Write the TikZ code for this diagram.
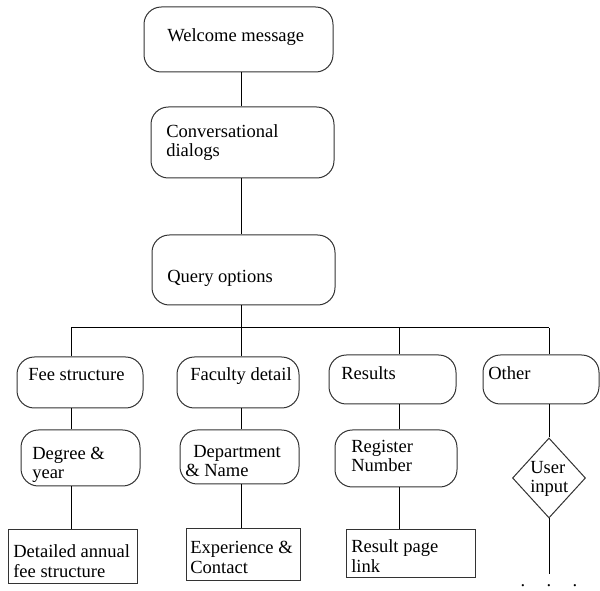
\documentclass[tikz,border=0pt]{standalone}
\usepackage{fontspec}
\setmainfont{Liberation Serif}
\usetikzlibrary{fit,shapes.geometric}

\begin{document}
\begin{tikzpicture}[x=0.75pt,y=0.75pt,yscale=-1,
  rbox/.style={draw=black!80, line width=0.75pt, rounded corners=13pt, inner sep=0pt},
  sbox/.style={draw=black!80, line width=0.75pt, inner sep=0pt},
  txt/.style={font=\fontsize{13.9}{14.8}\selectfont, align=left, inner sep=0pt, anchor=base west},
  link/.style={line width=0.75pt}]
\useasboundingbox (0,0) rectangle (600,591);

% Main column
\node[rbox, fit={(144,7) (333,72)}] (welcome) {};
\node[txt] (welcomeT) at (167,42) {Welcome message};
\node[rbox, fit={(151,107) (334,178)}] (conv) {};
\node[txt] (convT) at (166,157) {Conversational\\dialogs};
\node[rbox, fit={(152,235) (335,305)}] (query) {};
\node[txt] (queryT) at (167,283) {Query options};

% Branch points
\coordinate (c1) at (71,328);
\coordinate (c2) at (241,328);
\coordinate (c3) at (399,328);
\coordinate (c4) at (549,328);

% Options
\node[rbox, fit={(17,357) (143,408)}] (fee) {};
\node[txt] (feeT) at (28,381) {Fee structure};
\node[rbox, fit={(177,357) (299,408)}] (faculty) {};
\node[txt] (facultyT) at (190,381) {Faculty detail};
\node[rbox, fit={(329,355) (456,404)}] (results) {};
\node[txt] (resultsT) at (341,380) {Results};
\node[rbox, fit={(483,355) (599,404)}] (other) {};
\node[txt] (otherT) at (488,380) {Other};

% Second level (multi-line text sits on its last baseline)
\node[rbox, fit={(21,430) (140,486)}] (degree) {};
\node[txt] (degreeT) at (32,479) {Degree \&\\year};
\node[rbox, fit={(180,430) (299,484)}] (dept) {};
\node[txt] (deptT) at (185,477) {\hspace{6pt}Department\\\& Name};
\node[rbox, fit={(335,430) (457,487)}] (register) {};
\node[txt] (registerT) at (351,472) {Register\\Number};
\node[draw=black!80, line width=0.75pt, diamond, minimum width=54.75pt, minimum height=60pt, inner sep=0pt] (input) at (549,478) {};
\node[txt] (inputT) at (530,493) {User\\input};

% Third level
\node[sbox, fit={(8,529) (137,583)}] (annual) {};
\node[txt] (annualT) at (13,577) {Detailed annual\\fee structure};
\node[sbox, fit={(186,528) (300,580)}] (contact) {};
\node[txt] (contactT) at (190,573) {Experience \&\\Contact};
\node[sbox, fit={(346,529) (475,577)}] (link) {};
\node[txt] (linkT) at (351,572) {Result page\\link};
\coordinate (tail) at (549,574);
\node[txt, anchor=base] (dots) at (549,586) {.\hspace{16pt}.\hspace{16pt}.};

% Connectors
\draw[link] (welcome.south -| c2) -- (conv.north -| c2);
\draw[link] (conv.south -| c2) -- (query.north -| c2);
\draw[link] (query.south -| c2) -- (c2);
\draw[link] (c1) -- (c4);
\draw[link] (c1) -- (c1 |- fee.north);
\draw[link] (c2) -- (c2 |- faculty.north);
\draw[link] (c3) -- (c3 |- results.north);
\draw[link] (c4) -- (c4 |- other.north);
\draw[link] (fee.south -| c1) -- (degree.north -| c1);
\draw[link] (degree.south -| c1) -- (annual.north -| c1);
\draw[link] (faculty.south -| c2) -- (dept.north -| c2);
\draw[link] (dept.south -| c2) -- (contact.north -| c2);
\draw[link] (results.south -| c3) -- (register.north -| c3);
\draw[link] (register.south -| c3) -- (link.north -| c3);
\draw[link] (other.south -| c4) -- (input.north);
\draw[link] (input.south) -- (tail);

\end{tikzpicture}
\end{document}
